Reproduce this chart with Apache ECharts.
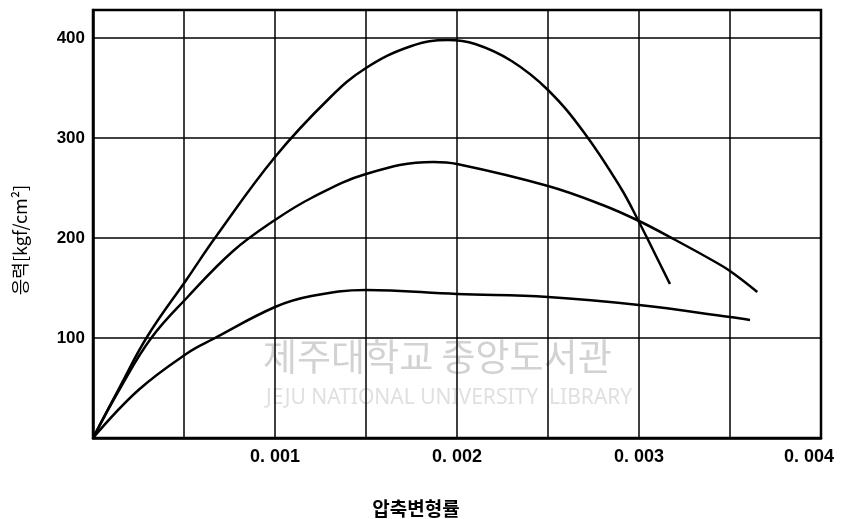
<!DOCTYPE html>
<html>
<head>
<meta charset="utf-8">
<script src="https://cdn.jsdelivr.net/npm/echarts@6/dist/echarts.min.js"></script>
<style>html,body{margin:0;padding:0;background:#fff}#c{width:843px;height:519px}</style>
</head>
<body>
<div id="c"></div>
<script>
const xTicks = [0.001, 0.002, 0.003, 0.004];
const yTicks = [100, 200, 300, 400];
const xName = '압축변형률';
const yName = '응력[kgf/cm²]';
const curveHigh = [[0,0],[0.00015,52],[0.0003,102],[0.00052,160],[0.00067,200],[0.001,281],[0.0013,340],[0.0015,370],[0.00175,392],[0.00195,398],[0.0021,394],[0.0023,377],[0.0025,348],[0.0027,305],[0.0029,250],[0.003,216],[0.00308,187],[0.00317,154]];
const curveMid = [[0,0],[0.00015,50],[0.00032,100],[0.00052,141],[0.00077,187],[0.001,218],[0.0012,240],[0.0015,264],[0.00187,276],[0.002,274],[0.0025,252],[0.0028,233],[0.003,217],[0.0032,198],[0.0034,178],[0.0035,167],[0.00365,146]];
const curveLow = [[0,0],[0.00025,48],[0.00052,85],[0.00066,99],[0.001,131],[0.0012,142],[0.0015,148],[0.002,144],[0.0025,141],[0.003,133],[0.0035,121],[0.00361,118]];

const chart = echarts.init(document.getElementById('c'));
const line = d => ({type:'line', data:d, smooth:0.4, showSymbol:false, lineStyle:{color:'#000', width:2.5}, z:5});
const lblFont = {color:'#000', fontFamily:'Liberation Sans', fontWeight:'bold', fontSize:18};
chart.setOption({
  animation:false,
  grid:{left:93, right:22, top:10, bottom:81, show:true, borderColor:'#000', borderWidth:2.5, outerBoundsMode:'none', containLabel:false},
  graphic:[
    {type:'text', left:263, top:338, z:-10, style:{text:'제주대학교 중앙도서관', fill:'#d2d2d2', font:'37px "Noto Sans CJK KR"'}},
    {type:'text', left:266, top:388, z:-10, style:{text:'JEJU NATIONAL UNIVERSITY  LIBRARY', fill:'#e0e0e0', font:'21px "Noto Sans"'}}
  ],
  xAxis:{type:'value', min:0, max:0.004, interval:0.0005,
    name:xName, nameLocation:'middle', nameGap:61,
    nameTextStyle:{fontFamily:'Noto Sans CJK KR', fontWeight:'bold', fontSize:19, color:'#000', padding:[0,82,0,0]},
    axisLine:{lineStyle:{color:'#000', width:2.5}}, axisTick:{show:false},
    axisLabel:Object.assign({margin:10,
      rich:{m:Object.assign({padding:[0,24,0,0]}, lblFont)},
      formatter:v=>{const k=Math.round(v*1000); if(!(Math.abs(v*1000-k)<1e-6 && xTicks.indexOf(k/1000)>=0)) return ''; const s='0. 00'+k; return k===4 ? '{m|'+s+'}' : s;}}, lblFont),
    splitLine:{show:true, lineStyle:{color:'#000', width:1.5}}},
  yAxis:{type:'value', min:0, max:428, interval:100,
    name:yName, nameLocation:'middle', nameGap:64, nameRotate:90,
    nameTextStyle:{fontFamily:'Noto Sans CJK KR', fontSize:18, color:'#000', padding:[0,32,0,0]},
    axisLine:{show:true, lineStyle:{color:'#000', width:2.5}}, axisTick:{show:false},
    axisLabel:{margin:8, color:'#000', fontFamily:'Liberation Sans', fontWeight:'bold', fontSize:17,
      formatter:v=>yTicks.indexOf(v)>=0 ? String(v) : ''},
    splitLine:{show:true, lineStyle:{color:'#000', width:1.5}}},
  series:[line(curveHigh), line(curveMid), line(curveLow)]
});
</script>
</body>
</html>
